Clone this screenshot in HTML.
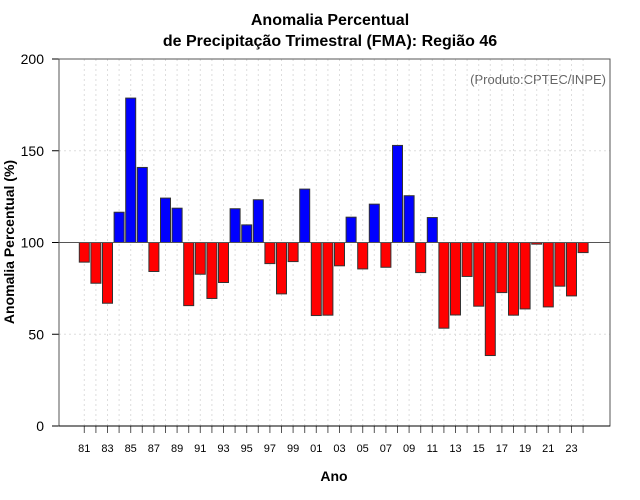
<!DOCTYPE html>
<html><head><meta charset="utf-8"><style>
body{margin:0;background:#fff}
svg{display:block;font-family:"Liberation Sans",sans-serif}
</style></head><body>
<svg id="chart" width="640" height="500" xmlns="http://www.w3.org/2000/svg">
<text x="330" y="25" text-anchor="middle" font-size="16" font-weight="bold">Anomalia Percentual</text>
<text x="330" y="46" text-anchor="middle" font-size="16" font-weight="bold">de Precipitação Trimestral (FMA): Região 46</text>
<text x="606" y="84" text-anchor="end" font-size="13" fill="#666">(Produto:CPTEC/INPE)</text>
<text transform="translate(14,242) rotate(-90)" text-anchor="middle" font-size="14" font-weight="bold">Anomalia Percentual (%)</text>
<text x="334" y="481" text-anchor="middle" font-size="14" font-weight="bold">Ano</text>
<g id="grid"></g><g id="bars"></g><g id="axes"></g>
</svg>
<script>
const years=[1981,1982,1983,1984,1985,1986,1987,1988,1989,1990,1991,1992,1993,1994,1995,1996,1997,1998,1999,2000,2001,2002,2003,2004,2005,2006,2007,2008,2009,2010,2011,2012,2013,2014,2015,2016,2017,2018,2019,2020,2021,2022,2023,2024];
const values=[89.3,77.8,66.9,116.5,178.7,140.9,84.2,124.2,118.7,65.6,82.7,69.5,78.2,118.4,109.6,123.3,88.5,72,89.6,129.1,60.2,60.4,87.3,113.8,85.6,120.9,86.5,152.9,125.5,83.6,113.6,53.3,60.5,81.5,65.3,38.4,72.7,60.4,63.8,99.1,64.9,76.2,70.9,94.5];
const yTicks=[0,50,100,150,200];
const NS="http://www.w3.org/2000/svg";
const L=59,R=610,T=59,B=426;
const x=yr=>84.3+(yr-1981)*11.6;
const y=v=>B-(v/200)*(B-T);
function mk(tag,at,parent){const e=document.createElementNS(NS,tag);for(const k in at)e.setAttribute(k,at[k]);document.getElementById(parent).appendChild(e);return e;}
yTicks.forEach(t=>{
  const g=mk('line',{x1:L,x2:R,y1:y(t),y2:y(t),stroke:'#ddd','stroke-dasharray':'2,3'},'grid');
  
  
  const tk=mk('line',{x1:L-7,x2:L,y1:y(t),y2:y(t),stroke:'#000'},'axes');
  
  
  const lb=mk('text',{x:L-15,y:y(t)+5,'text-anchor':'end','font-size':14},'axes');
  lb.textContent=t;
  
  
});
years.forEach((yr,i)=>{
  const g=mk('line',{x1:x(yr),x2:x(yr),y1:T,y2:B,stroke:'#ddd','stroke-dasharray':'2,3'},'grid');
  
  
  const tk=mk('line',{x1:x(yr),x2:x(yr),y1:B,y2:B+7,stroke:'#555'},'axes');
  
  
  if(yr%2===1){
    const lb=mk('text',{x:x(yr),y:452,'text-anchor':'middle','font-size':11},'axes');
    lb.textContent=String(yr%100).padStart(2,'0');
    
    
  }
  const v=values[i];
  const top=Math.min(y(v),y(100)),h=Math.abs(y(v)-y(100));
  const b=mk('rect',{x:x(yr)-5,y:top,width:10,height:Math.max(h,1),fill:v>=100?'#0000ff':'#ff0000',stroke:'#333','stroke-width':1},'bars');
  
  
});
const ref=mk('line',{x1:L,x2:R,y1:y(100),y2:y(100),stroke:'#555','stroke-width':1},'axes');


const box=mk('rect',{x:L,y:T,width:R-L,height:B-T,fill:'none',stroke:'#555'},'axes');


const ax=mk('line',{x1:L,x2:R,y1:B,y2:B,stroke:'#000'},'axes');


</script>
</body></html>
